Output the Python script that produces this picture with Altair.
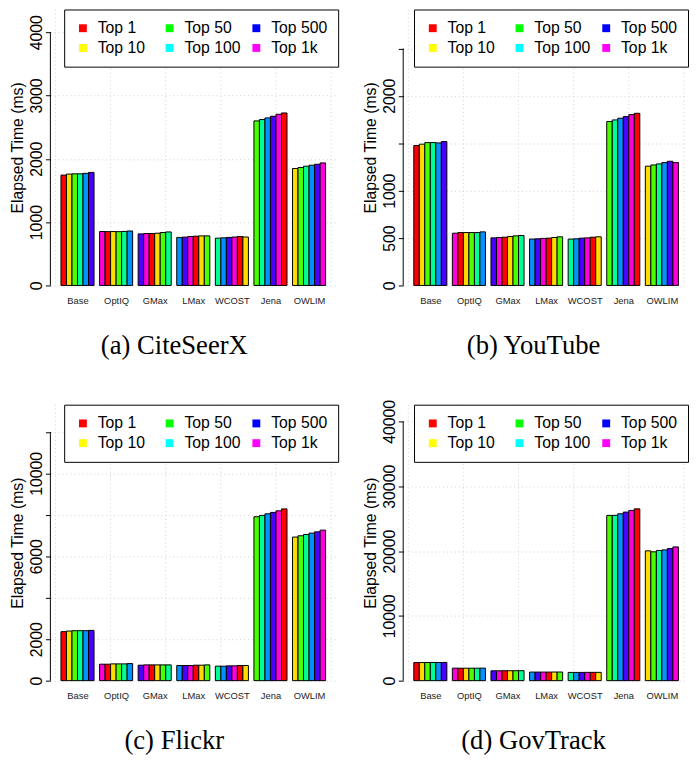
import json
import numpy as np
import pandas as pd
import altair as alt

# ---------------- data ----------------
groups = ["Base", "OptIQ", "GMax", "LMax", "WCOST", "Jena", "OWLIM"]
series = ["Top 1", "Top 10", "Top 50", "Top 100", "Top 500", "Top 1k"]
legend_colors = ["#FF0000", "#FFFF00", "#00FF00", "#00FFFF", "#0000FF", "#FF00FF"]
bar_cycle = ["#FF0000", "#FFDB00", "#49FF00", "#00FF92", "#0092FF", "#4900FF", "#FF00DB"]

citeseerx = {
    "Base": [1743, 1759, 1763, 1763, 1770, 1785],
    "OptIQ": [852, 850, 851, 850, 853, 860],
    "GMax": [814, 820, 820, 825, 836, 845],
    "LMax": [758, 763, 773, 778, 783, 783],
    "WCOST": [747, 752, 758, 765, 773, 765],
    "Jena": [2599, 2620, 2646, 2672, 2703, 2724],
    "OWLIM": [1847, 1863, 1883, 1899, 1914, 1935],
}
youtube = {
    "Base": [1476, 1490, 1507, 1507, 1504, 1518],
    "OptIQ": [551, 558, 558, 558, 558, 565],
    "GMax": [502, 506, 509, 516, 523, 527],
    "LMax": [489, 492, 496, 499, 506, 513],
    "WCOST": [489, 492, 499, 502, 509, 513],
    "Jena": [1729, 1746, 1764, 1781, 1802, 1816],
    "OWLIM": [1258, 1271, 1282, 1296, 1310, 1296],
}
flickr = {
    "Base": [2364, 2393, 2411, 2411, 2411, 2426],
    "OptIQ": [794, 794, 809, 809, 809, 823],
    "GMax": [746, 761, 761, 761, 761, 761],
    "LMax": [730, 730, 730, 746, 746, 761],
    "WCOST": [698, 698, 714, 714, 730, 730],
    "Jena": [7910, 7976, 8053, 8119, 8195, 8290],
    "OWLIM": [6930, 6992, 7054, 7120, 7182, 7263],
}
govtrack = {
    "Base": [2790, 2790, 2800, 2800, 2800, 2810],
    "OptIQ": [1930, 1920, 1920, 1920, 1920, 1930],
    "GMax": [1520, 1520, 1530, 1530, 1530, 1540],
    "LMax": [1320, 1320, 1320, 1320, 1330, 1330],
    "WCOST": [1270, 1270, 1270, 1280, 1280, 1280],
    "Jena": [25500, 25510, 25750, 26010, 26270, 26510],
    "OWLIM": [20030, 19880, 20080, 20180, 20380, 20640],
}

ticks_a = [0, 1000, 2000, 3000, 4000]
labels_a = [0, 1000, 2000, 3000, 4000]
ticks_b = [0, 500, 1000, 1500, 2000, 2500]
labels_b = [0, 500, 1000, 2000]
ticks_c = [0, 2000, 4000, 6000, 8000, 10000, 12000]
labels_c = [0, 2000, 6000, 10000]
ticks_d = [0, 10000, 20000, 30000, 40000]
labels_d = [0, 10000, 20000, 30000, 40000]

captions = ["(a) CiteSeerX", "(b) YouTube", "(c) Flickr", "(d) GovTrack"]
vgrid = [0, 10, 20, 30, 40, 50]

SANS = "Liberation Sans"
SERIF = "Liberation Serif"
GRID = "#cfcfcf"


def build_df(values):
    rows = []
    for g, name in enumerate(groups):
        for j, s in enumerate(series):
            i = g * 6 + j
            left = 1 + 7 * g + j
            rows.append({"group": name, "series": s, "value": values[name][j],
                         "x0": left, "x1": left + 1, "color": bar_cycle[i % 7]})
    return pd.DataFrame(rows)


def panel(values, ymax, ticks, shown, caption, width, x_hi, legend_x, cap_dx):
    df = build_df(values)
    xscale = alt.Scale(domain=[-0.92, x_hi], nice=False, zero=False)
    yscale = alt.Scale(domain=[0, ymax], nice=False, zero=False)
    centers = [4 + 7 * g for g in range(len(groups))]
    names_expr = "%s[round((datum.value - 4) / 7)]" % json.dumps(groups)
    ylab_expr = "indexof(%s, datum.value) >= 0 ? datum.label : ''" % json.dumps(shown)

    x_axis = alt.Axis(
        values=centers, labelExpr=names_expr, title=None, domain=False,
        ticks=False, tickSize=0, grid=False, labelFont=SANS, labelFontSize=9.5,
        labelColor="#222222", labelPadding=10, labelOverlap=False,
        labelFlush=False, labelAngle=0)
    y_axis = alt.Axis(
        values=ticks, format="d", labelExpr=ylab_expr, labelAngle=270,
        labelAlign="center", labelBaseline="alphabetic", labelFont=SANS,
        labelFontSize=16, labelColor="black", labelPadding=4, tickSize=5,
        tickColor="black", tickWidth=1, domain=False, grid=True,
        gridColor=GRID, gridDash=[1, 3], gridWidth=1, labelOverlap=False,
        labelFlush=False, title="Elapsed Time (ms)", titleFont=SANS,
        titleFontSize=16, titleFontWeight="normal", titleColor="black",
        titlePadding=3)

    grid_v = alt.Chart(pd.DataFrame({"v": vgrid})).mark_rule(
        color=GRID, strokeDash=[1, 3], strokeWidth=1
    ).encode(x=alt.X("v:Q", scale=xscale, axis=x_axis))

    bars = alt.Chart(df).mark_rect(stroke="black", strokeWidth=1, opacity=1).encode(
        x=alt.X("x0:Q", scale=xscale, axis=x_axis),
        x2="x1:Q",
        y=alt.Y("value:Q", scale=yscale, axis=y_axis),
        y2=alt.datum(0),
        fill=alt.Fill("color:N", scale=None),
    )

    axis_line = alt.Chart(pd.DataFrame({"y0": [ticks[0]], "y1": [ticks[-1]]})).mark_rule(
        color="black", strokeWidth=1
    ).encode(x=alt.value(0), y=alt.Y("y0:Q", scale=yscale, axis=y_axis), y2="y1:Q")

    leg_df = pd.DataFrame({"series": series, "lx": [np.nan] * 6, "ly": [np.nan] * 6})
    legend_layer = alt.Chart(leg_df).mark_square(opacity=1, filled=True).encode(
        x=alt.X("lx:Q", scale=xscale, axis=x_axis),
        y=alt.Y("ly:Q", scale=yscale, axis=y_axis),
        color=alt.Color("series:N", scale=alt.Scale(domain=series, range=legend_colors),
            legend=alt.Legend(
                orient="none", legendX=legend_x, legendY=0, columns=3, title=None,
                direction="vertical",
                symbolType="square", symbolSize=64, symbolStrokeWidth=0,
                symbolOpacity=1, labelFont=SANS, labelFontSize=16,
                labelColor="black", labelOffset=7, columnPadding=8,
                rowPadding=4, padding=11, strokeColor="black", fillColor="white",
                gridAlign="all", cornerRadius=0)),
    )

    return alt.layer(grid_v, bars, axis_line, legend_layer).properties(
        width=width, height=280,
        title=alt.TitleParams(text=caption, orient="bottom", anchor="middle",
                              font=SERIF, fontSize=27, fontWeight="normal",
                              color="black", offset=29, frame="bounds", dx=cap_dx),
    )


pa = panel(citeseerx, 4358, ticks_a, labels_a, captions[0], 290, 50.92, 14, 0)
pb = panel(youtube, 2911, ticks_b, labels_b, captions[1], 286, 50.205, 11, 8)
pc = panel(flickr, 13318, ticks_c, labels_c, captions[2], 290, 50.92, 14, 0)
pd_ = panel(govtrack, 42586, ticks_d, labels_d, captions[3], 286, 50.205, 11, 8)

chart = alt.concat(pa, pb, pc, pd_, columns=2, spacing={"row": 121, "column": 68},
                   bounds="flush").resolve_scale(
    x="independent", y="independent", color="independent"
).resolve_legend(color="independent").properties(
    padding={"left": 2, "top": -5, "right": 0, "bottom": 0}
).configure_view(strokeWidth=0)

chart.save("out.html", embed_options={"renderer": "svg", "actions": False})
